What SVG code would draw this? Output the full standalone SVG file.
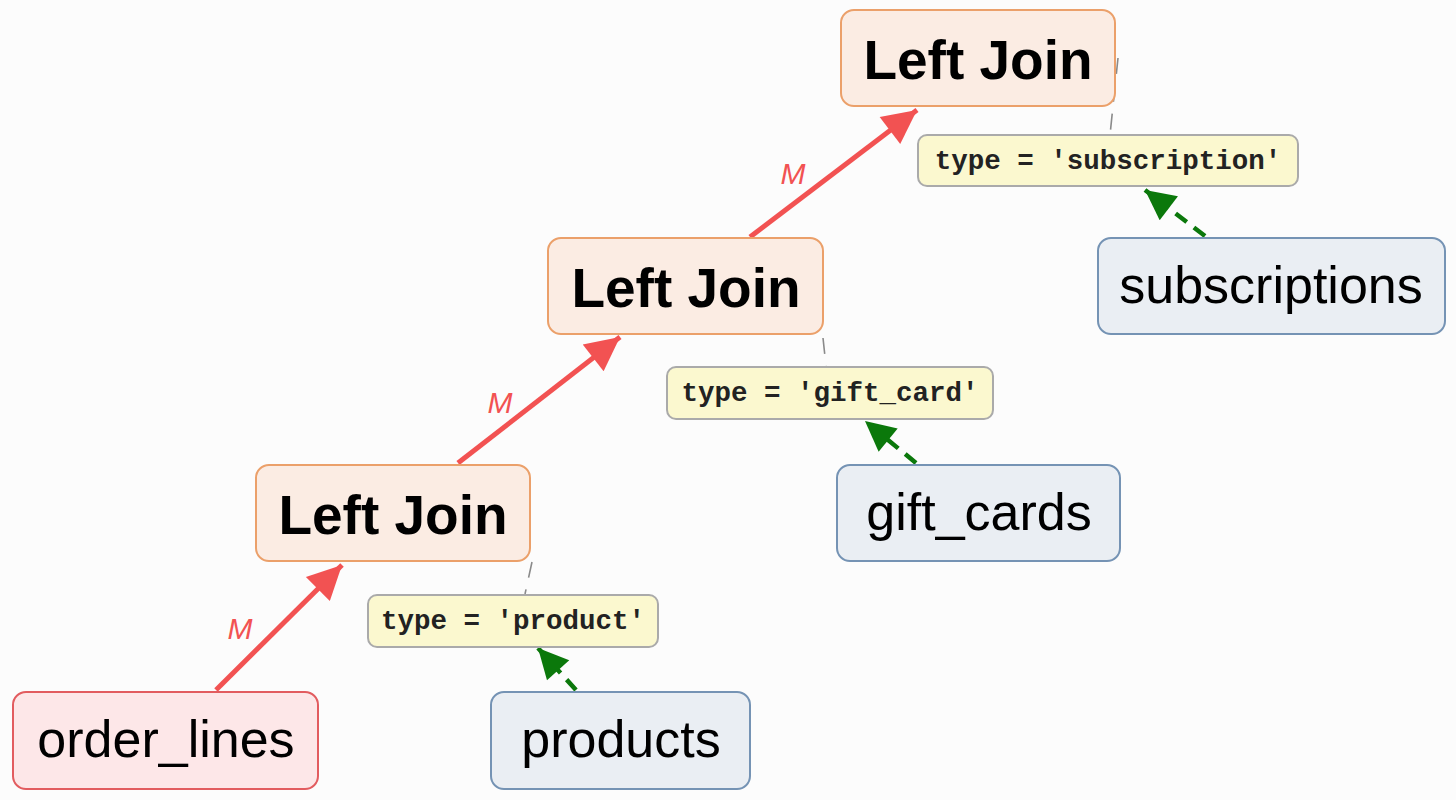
<svg xmlns="http://www.w3.org/2000/svg" width="1456" height="800" viewBox="0 0 1456 800">
<defs>
<style>
.join rect{fill:#fbece3;stroke:#eba06a;stroke-width:2}
.join text{font-family:"Liberation Sans",Arial,sans-serif;font-weight:bold;font-size:55px;fill:#000;text-anchor:middle}
.src rect{fill:#eaeef3;stroke:#7593b4;stroke-width:2}
.base rect{fill:#fde7e8;stroke:#e25c5f;stroke-width:2}
.src text,.base text{font-family:"Liberation Sans",Arial,sans-serif;font-size:52px;fill:#000;text-anchor:middle}
.cond rect{fill:#fbf8cf;stroke:#aaaaaa;stroke-width:2}
.cond text{font-family:"Liberation Mono","Courier New",monospace;font-weight:bold;font-size:27.5px;fill:#222;text-anchor:middle}
.red{stroke:#f25252;stroke-width:5;fill:none}
.green{stroke:#0b780b;stroke-width:4.5;stroke-dasharray:14 9;fill:none}
.grey{stroke:#8a8a8a;stroke-width:1.6;stroke-dasharray:16 12;fill:none}
.m{font-family:"Liberation Sans",Arial,sans-serif;font-style:italic;font-size:30px;fill:#f25252;text-anchor:middle}
</style>
<marker id="ar" viewBox="0 0 10 10" refX="10" refY="5" markerUnits="userSpaceOnUse" markerWidth="40" markerHeight="34" orient="auto"><path d="M0,0 L10,5 L0,10 z" fill="#f25252"/></marker>
<marker id="ag" viewBox="0 0 10 10" refX="10" refY="5" markerUnits="userSpaceOnUse" markerWidth="34" markerHeight="30" orient="auto"><path d="M0,0 L10,5 L0,10 z" fill="#0b780b"/></marker>
</defs>
<rect width="1456" height="800" fill="#fcfcfc"/>
<g id="connectors">
<line class="grey" x1="1118" y1="58" x2="1110" y2="135"/>
<line class="grey" x1="823" y1="338" x2="826" y2="366"/>
<line class="grey" x1="532" y1="562" x2="525" y2="594"/>
<line class="red" x1="216" y1="690" x2="342" y2="565" marker-end="url(#ar)"/>
<line class="red" x1="458" y1="463" x2="620" y2="337" marker-end="url(#ar)"/>
<line class="red" x1="750" y1="237" x2="917" y2="110" marker-end="url(#ar)"/>
<text class="m" x="240" y="639">M</text>
<text class="m" x="500" y="413">M</text>
<text class="m" x="793" y="184">M</text>
<line class="green" x1="576" y1="690" x2="538" y2="648" marker-end="url(#ag)"/>
<line class="green" x1="916" y1="463" x2="865" y2="421" marker-end="url(#ag)"/>
<line class="green" x1="1205" y1="236" x2="1145" y2="190" marker-end="url(#ag)"/>
</g>
<g id="join3" class="join"><rect x="841" y="10" width="274" height="96" rx="13"/><text x="978" y="79">Left Join</text></g>
<g id="join2" class="join"><rect x="548" y="238" width="275" height="96" rx="13"/><text x="686" y="307">Left Join</text></g>
<g id="join1" class="join"><rect x="256" y="465" width="274" height="96" rx="13"/><text x="393" y="534">Left Join</text></g>
<g id="order_lines" class="base"><rect x="13" y="692" width="305" height="97" rx="13"/><text x="166" y="757">order_lines</text></g>
<g id="products" class="src"><rect x="491" y="692" width="259" height="97" rx="13"/><text x="621" y="757">products</text></g>
<g id="gift_cards" class="src"><rect x="837" y="465" width="283" height="96" rx="13"/><text x="979" y="530">gift_cards</text></g>
<g id="subscriptions" class="src"><rect x="1098" y="238" width="347" height="96" rx="13"/><text x="1271" y="303">subscriptions</text></g>
<g id="cond_subscription" class="cond"><rect x="918" y="135" width="380" height="51" rx="9"/><text x="1108" y="169">type = 'subscription'</text></g>
<g id="cond_gift_card" class="cond"><rect x="667" y="367" width="326" height="52" rx="9"/><text x="830" y="401">type = 'gift_card'</text></g>
<g id="cond_product" class="cond"><rect x="368" y="595" width="290" height="52" rx="9"/><text x="513" y="629">type = 'product'</text></g>
</svg>
